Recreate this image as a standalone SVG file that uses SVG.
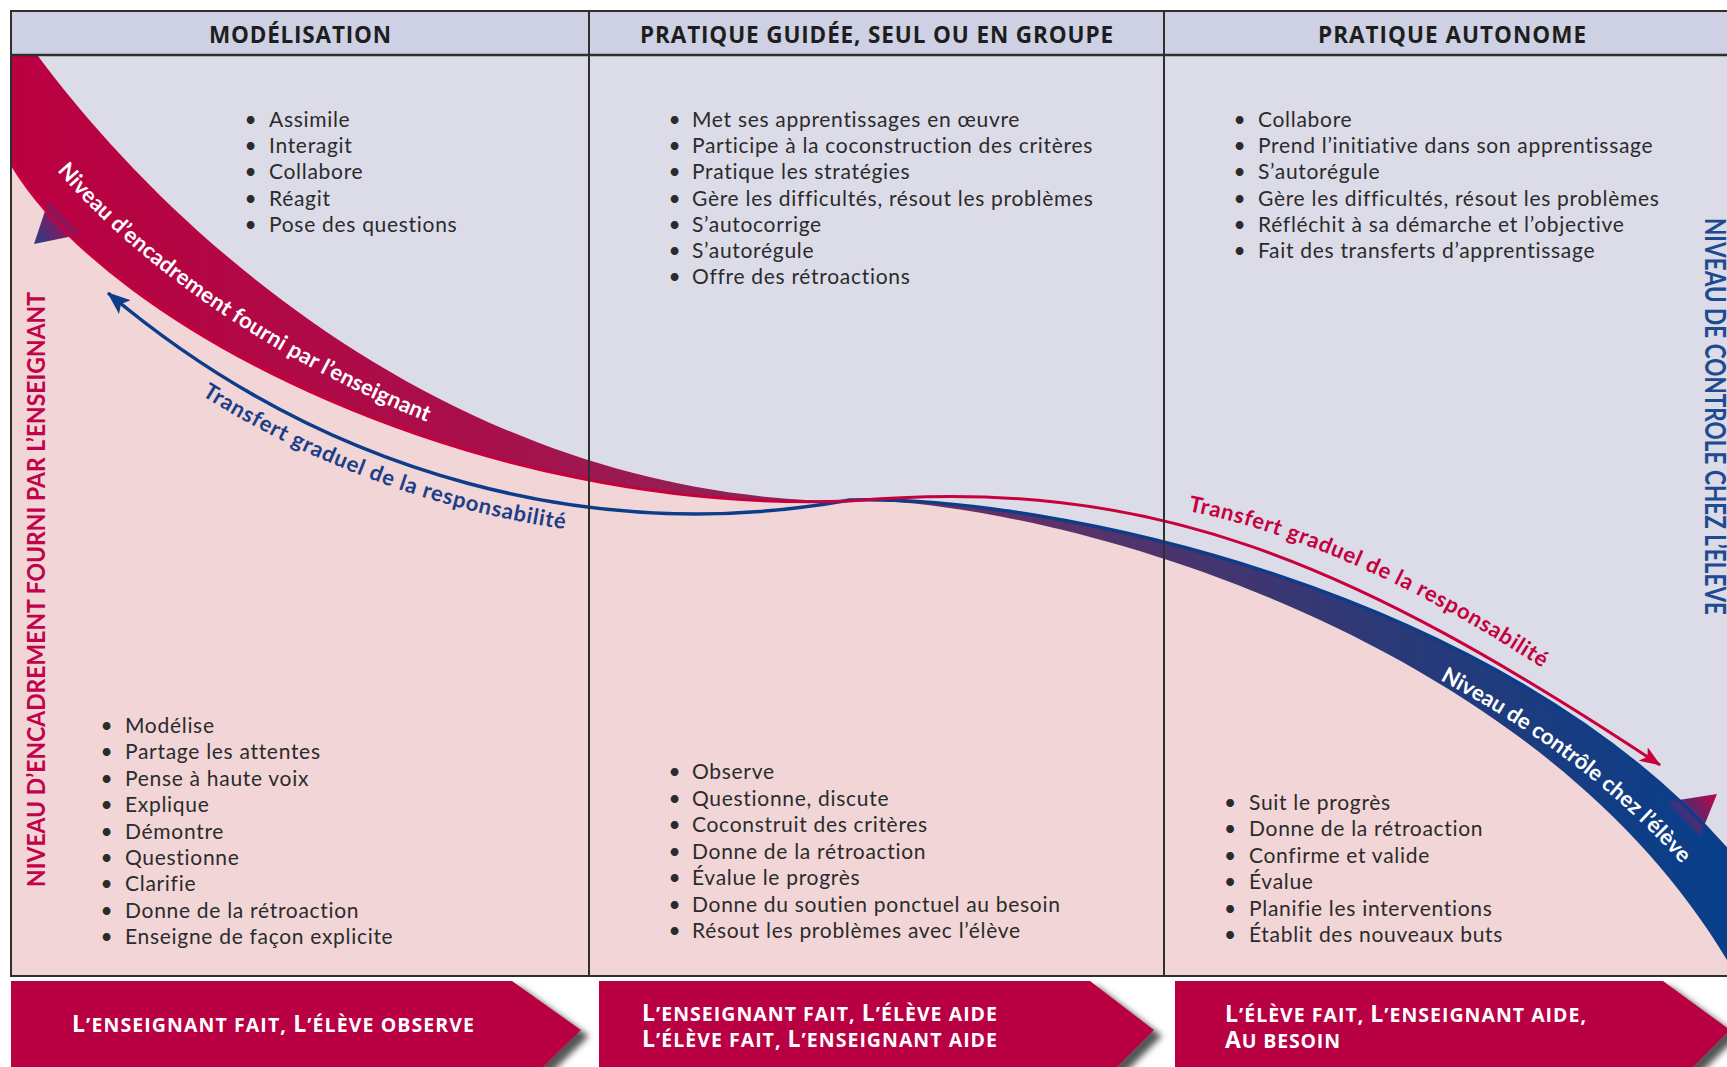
<svg xmlns="http://www.w3.org/2000/svg" width="1727" height="1067" viewBox="0 0 1727 1067">
<style>
.body{font-family:Lato,"Liberation Sans",sans-serif;font-size:21px;letter-spacing:0.7px;fill:#2b2b2b}
.hdr{font-family:"Open Sans",Lato,"Liberation Sans",sans-serif;font-size:22.5px;font-weight:700;fill:#1e1e1e}
.chev{font-family:"Open Sans",Lato,"Liberation Sans",sans-serif;font-weight:700;fill:#ffffff;font-size:19.5px}
.big{font-size:23px}
.curve{font-family:Lato,"Liberation Sans",sans-serif;font-weight:700;font-size:22px}
.grid{stroke:#2f2f2f;stroke-width:2;fill:none}
.side{font-family:Lato,"Liberation Sans",sans-serif;font-weight:700}
</style>
<defs>
<linearGradient id="bandGrad" gradientUnits="userSpaceOnUse" x1="11" y1="0" x2="1727" y2="0">
<stop offset="0" stop-color="#bb0040"/>
<stop offset="0.28" stop-color="#a8104b"/>
<stop offset="0.45" stop-color="#8a2658"/>
<stop offset="0.6" stop-color="#5d3168"/>
<stop offset="0.8" stop-color="#2b3977"/>
<stop offset="1" stop-color="#073f8a"/>
</linearGradient>
<linearGradient id="barbL" gradientUnits="userSpaceOnUse" x1="78" y1="214" x2="36" y2="243">
<stop offset="0" stop-color="#c0003f"/>
<stop offset="1" stop-color="#2c3d8c"/>
</linearGradient>
<linearGradient id="barbR" gradientUnits="userSpaceOnUse" x1="1714" y1="796" x2="1678" y2="824">
<stop offset="0" stop-color="#b8084a"/>
<stop offset="1" stop-color="#163e88"/>
</linearGradient>
<clipPath id="content"><rect x="11" y="55" width="1729" height="921"/></clipPath>
<marker id="arrBlue" markerUnits="userSpaceOnUse" viewBox="0 0 23 18" markerWidth="23" markerHeight="18" refX="22" refY="9" orient="auto-start-reverse">
<path d="M0,0 L23,9 L0,18 L5,9 Z" fill="#0d3d8a"/>
</marker>
<marker id="arrRed" markerUnits="userSpaceOnUse" viewBox="0 0 21 16" markerWidth="21" markerHeight="16" refX="20" refY="8" orient="auto">
<path d="M0,0 L21,8 L0,16 L5,8 Z" fill="#c8003c"/>
</marker>
<filter id="shadow" x="-5%" y="-20%" width="115%" height="160%">
<feGaussianBlur in="SourceAlpha" stdDeviation="3"/>
<feOffset dx="8" dy="6" result="b"/>
<feFlood flood-color="#555555"/>
<feComposite in2="b" operator="in"/>
<feMerge><feMergeNode/><feMergeNode in="SourceGraphic"/></feMerge>
</filter>
<path id="tp1" d="M21,123 C140,304 480,510 850,501"/>
<path id="tp2" d="M98,320 C320,506 604,570 854,525"/>
<path id="tp3" d="M1188,511 C1300,533 1430,592 1560,680"/>
<path id="tp4" d="M1440,680 C1530,728 1620,790 1700,885"/>
</defs>

<rect width="1727" height="1067" fill="#ffffff"/>

<g id="background" clip-path="url(#content)">
<rect x="11" y="55" width="1729" height="921" fill="#f1d5d7"/>
<path d="M11,40 L38,56 C190,260 480,501 850,501 C1050,495 1500,590 1727,850 L1800,934 L1800,40 Z" fill="#dcdbe8"/>
</g>

<g id="bands" clip-path="url(#content)">
<path id="band-enseignant" d="M11,40 L30,40 L38,56 C190,260 480,501 850,501 C480,515 110,330 11,163 Z" fill="url(#bandGrad)"/>
<path id="band-eleve" d="M850,500 C1050,495 1500,590 1727,850 L1800,934 L1800,1010 L1745,995 L1727,960 C1530,630 1050,500 850,500 Z" fill="url(#bandGrad)"/>
<polygon points="48,202 34,244 83,234" fill="url(#barbL)"/>
<polygon points="1666,802 1717,794 1700,836" fill="url(#barbR)"/>
</g>

<g id="connectors" clip-path="url(#content)">
<path id="arrow-transfert-gauche" d="M108,293 C330,480 600,545 850,500 C1050,495 1500,590 1727,850 L1790,922" fill="none" stroke="#0d3d8a" stroke-width="3.5" marker-start="url(#arrBlue)"/>
<path id="arrow-transfert-droite" d="M11,163 C110,330 480,515 850,501 C1150,475 1350,560 1660,765" fill="none" stroke="#c8003c" stroke-width="3" marker-end="url(#arrRed)"/>
</g>

<g id="band-labels">
<text class="curve" fill="#ffffff" letter-spacing="0.2"><textPath href="#tp1" startOffset="60">Niveau d’encadrement fourni par l’enseignant</textPath></text>
<text class="curve" fill="#1a3f88" letter-spacing="0.8"><textPath href="#tp2" startOffset="128">Transfert graduel de la responsabilité</textPath></text>
<text class="curve" fill="#c6003f" letter-spacing="0.8"><textPath href="#tp3" startOffset="0">Transfert graduel de la responsabilité</textPath></text>
<text class="curve" fill="#ffffff" letter-spacing="0.1"><textPath href="#tp4" startOffset="0">Niveau de contrôle chez l’élève</textPath></text>
</g>

<g id="frame">
<rect x="11" y="11" width="1729" height="44" fill="#cdd1e3"/>
<rect x="11" y="11" width="1729" height="965" class="grid"/>
<line x1="11" y1="55" x2="1740" y2="55" stroke="#2f2f2f" stroke-width="2.5"/>
<line x1="589" y1="11" x2="589" y2="976" class="grid"/>
<line x1="1164" y1="11" x2="1164" y2="976" class="grid"/>
</g>

<g id="headers">
<text id="h-modelisation" class="hdr" x="300" y="43" text-anchor="middle" textLength="182">MODÉLISATION</text>
<text id="h-guidee" class="hdr" x="876.5" y="43" text-anchor="middle" textLength="473">PRATIQUE GUIDÉE, SEUL OU EN GROUPE</text>
<text id="h-autonome" class="hdr" x="1452" y="43" text-anchor="middle" textLength="268">PRATIQUE AUTONOME</text>
</g>

<g id="side-labels">
<text class="side" font-size="25" fill="#c2024a" transform="translate(45,887) rotate(-90)" textLength="595" lengthAdjust="spacingAndGlyphs">NIVEAU D’ENCADREMENT FOURNI PAR L’ENSEIGNANT</text>
<text class="side" font-size="29" fill="#1d4a90" transform="translate(1705,218) rotate(90)" textLength="397" lengthAdjust="spacingAndGlyphs">NIVEAU DE CONTRÔLE CHEZ L’ÉLÈVE</text>
</g>

<g id="eleve-modelisation" class="body">
<text y="126.7"><tspan x="244.5">•</tspan><tspan x="269">Assimile</tspan></text>
<text y="153"><tspan x="244.5">•</tspan><tspan x="269">Interagit</tspan></text>
<text y="179.2"><tspan x="244.5">•</tspan><tspan x="269">Collabore</tspan></text>
<text y="205.5"><tspan x="244.5">•</tspan><tspan x="269">Réagit</tspan></text>
<text y="231.7"><tspan x="244.5">•</tspan><tspan x="269">Pose des questions</tspan></text>
</g>

<g id="eleve-guidee" class="body">
<text y="126.7"><tspan x="668.5">•</tspan><tspan x="692">Met ses apprentissages en œuvre</tspan></text>
<text y="153"><tspan x="668.5">•</tspan><tspan x="692">Participe à la coconstruction des critères</tspan></text>
<text y="179.2"><tspan x="668.5">•</tspan><tspan x="692">Pratique les stratégies</tspan></text>
<text y="205.5"><tspan x="668.5">•</tspan><tspan x="692">Gère les difficultés, résout les problèmes</tspan></text>
<text y="231.7"><tspan x="668.5">•</tspan><tspan x="692">S’autocorrige</tspan></text>
<text y="258"><tspan x="668.5">•</tspan><tspan x="692">S’autorégule</tspan></text>
<text y="284.2"><tspan x="668.5">•</tspan><tspan x="692">Offre des rétroactions</tspan></text>
</g>

<g id="eleve-autonome" class="body">
<text y="126.7"><tspan x="1233.5">•</tspan><tspan x="1258">Collabore</tspan></text>
<text y="153"><tspan x="1233.5">•</tspan><tspan x="1258">Prend l’initiative dans son apprentissage</tspan></text>
<text y="179.2"><tspan x="1233.5">•</tspan><tspan x="1258">S’autorégule</tspan></text>
<text y="205.5"><tspan x="1233.5">•</tspan><tspan x="1258">Gère les difficultés, résout les problèmes</tspan></text>
<text y="231.7"><tspan x="1233.5">•</tspan><tspan x="1258">Réfléchit à sa démarche et l’objective</tspan></text>
<text y="258"><tspan x="1233.5">•</tspan><tspan x="1258">Fait des transferts d’apprentissage</tspan></text>
</g>

<g id="enseignant-modelisation" class="body">
<text y="733"><tspan x="100.5">•</tspan><tspan x="125">Modélise</tspan></text>
<text y="759.4"><tspan x="100.5">•</tspan><tspan x="125">Partage les attentes</tspan></text>
<text y="785.8"><tspan x="100.5">•</tspan><tspan x="125">Pense à haute voix</tspan></text>
<text y="812.2"><tspan x="100.5">•</tspan><tspan x="125">Explique</tspan></text>
<text y="838.6"><tspan x="100.5">•</tspan><tspan x="125">Démontre</tspan></text>
<text y="865"><tspan x="100.5">•</tspan><tspan x="125">Questionne</tspan></text>
<text y="891.4"><tspan x="100.5">•</tspan><tspan x="125">Clarifie</tspan></text>
<text y="917.8"><tspan x="100.5">•</tspan><tspan x="125">Donne de la rétroaction</tspan></text>
<text y="944.2"><tspan x="100.5">•</tspan><tspan x="125">Enseigne de façon explicite</tspan></text>
</g>

<g id="enseignant-guidee" class="body">
<text y="779"><tspan x="668.5">•</tspan><tspan x="692">Observe</tspan></text>
<text y="805.5"><tspan x="668.5">•</tspan><tspan x="692">Questionne, discute</tspan></text>
<text y="832"><tspan x="668.5">•</tspan><tspan x="692">Coconstruit des critères</tspan></text>
<text y="858.5"><tspan x="668.5">•</tspan><tspan x="692">Donne de la rétroaction</tspan></text>
<text y="885"><tspan x="668.5">•</tspan><tspan x="692">Évalue le progrès</tspan></text>
<text y="911.5"><tspan x="668.5">•</tspan><tspan x="692">Donne du soutien ponctuel au besoin</tspan></text>
<text y="938"><tspan x="668.5">•</tspan><tspan x="692">Résout les problèmes avec l’élève</tspan></text>
</g>

<g id="enseignant-autonome" class="body">
<text y="810"><tspan x="1224">•</tspan><tspan x="1249">Suit le progrès</tspan></text>
<text y="836.4"><tspan x="1224">•</tspan><tspan x="1249">Donne de la rétroaction</tspan></text>
<text y="862.8"><tspan x="1224">•</tspan><tspan x="1249">Confirme et valide</tspan></text>
<text y="889.2"><tspan x="1224">•</tspan><tspan x="1249">Évalue</tspan></text>
<text y="915.6"><tspan x="1224">•</tspan><tspan x="1249">Planifie les interventions</tspan></text>
<text y="942"><tspan x="1224">•</tspan><tspan x="1249">Établit des nouveaux buts</tspan></text>
</g>

<g id="chevron-1">
<polygon points="11,981 512,981 581,1030 540,1070 11,1070" fill="#b80042" filter="url(#shadow)"/>
<text class="chev" x="72" y="1032" textLength="402"><tspan class="big">L</tspan>’ENSEIGNANT FAIT, <tspan class="big">L</tspan>’ÉLÈVE OBSERVE</text>
</g>
<g id="chevron-2">
<polygon points="599,981 1090,981 1154,1030 1114,1070 599,1070" fill="#b80042" filter="url(#shadow)"/>
<text class="chev" x="642" y="1021" textLength="355"><tspan class="big">L</tspan>’ENSEIGNANT FAIT, <tspan class="big">L</tspan>’ÉLÈVE AIDE</text>
<text class="chev" x="642" y="1047" textLength="355"><tspan class="big">L</tspan>’ÉLÈVE FAIT, <tspan class="big">L</tspan>’ENSEIGNANT AIDE</text>
</g>
<g id="chevron-3">
<polygon points="1175,981 1663,981 1730,1030 1690,1070 1175,1070" fill="#b80042" filter="url(#shadow)"/>
<text class="chev" x="1225" y="1022" textLength="361"><tspan class="big">L</tspan>’ÉLÈVE FAIT, <tspan class="big">L</tspan>’ENSEIGNANT AIDE,</text>
<text class="chev" x="1225" y="1048" textLength="115"><tspan class="big">A</tspan>U BESOIN</text>
</g>
</svg>
